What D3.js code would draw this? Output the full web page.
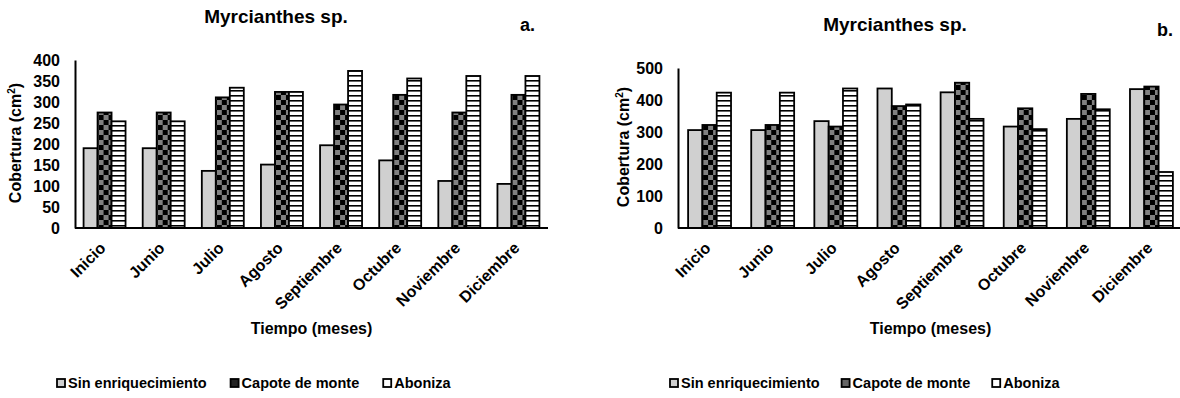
<!DOCTYPE html>
<html>
<head>
<meta charset="utf-8">
<script src="https://cdn.jsdelivr.net/npm/d3@7"></script>
<style>
  body { margin: 0; background: #fff; }
  text { font-family: "Liberation Sans", Arial, sans-serif; font-weight: bold; fill: #000; }
</style>
</head>
<body>
<script>
// categorias y series
var months = ["Inicio", "Junio", "Julio", "Agosto", "Septiembre", "Octubre", "Noviembre", "Diciembre"];
var seriesNames = ["Sin enriquecimiento", "Capote de monte", "Aboniza"];

var sinA = [190, 190, 136, 151, 197, 161, 112, 105];
var capoteA = [275, 275, 311, 324, 294, 317, 275, 317];
var abonizaA = [254, 254, 334, 324, 374, 356, 362, 362];

var sinB = [306, 306, 334, 436, 424, 317, 341, 434];
var capoteB = [322, 322, 317, 381, 454, 374, 419, 442];
var abonizaB = [423, 423, 436, 386, 341, 309, 371, 175];

var ticksA = [0, 50, 100, 150, 200, 250, 300, 350, 400];
var ticksB = [0, 100, 200, 300, 400, 500];

var svg = d3.select("body").append("svg")
    .attr("width", 1180)
    .attr("height", 398);

// patterns
var defs = svg.append("defs");
var checker = defs.append("pattern")
    .attr("id", "checker")
    .attr("patternUnits", "userSpaceOnUse")
    .attr("width", 10).attr("height", 10);
checker.append("rect").attr("width", 10).attr("height", 10).attr("fill", "#808080");
checker.append("rect").attr("width", 5).attr("height", 5).attr("fill", "#000");
checker.append("rect").attr("x", 5).attr("y", 5).attr("width", 5).attr("height", 5).attr("fill", "#000");

var stripes = defs.append("pattern")
    .attr("id", "stripes")
    .attr("patternUnits", "userSpaceOnUse")
    .attr("width", 10).attr("height", 5);
stripes.append("rect").attr("width", 10).attr("height", 5).attr("fill", "#fff");
stripes.append("rect").attr("y", 0).attr("width", 10).attr("height", 1.6).attr("fill", "#000");

var fills = ["#d0d0d0", "url(#checker)", "url(#stripes)"];
var legendFills = ["#d0d0d0", "#5a5a5a", "#fff"];

function drawChart(cfg) {
    var g = svg.append("g");

    var y = d3.scaleLinear().domain(cfg.domain).range([228, cfg.top]);
    var x = d3.scaleBand().domain(months).range([cfg.left, cfg.right])
        .paddingInner(cfg.pad).paddingOuter(cfg.pad / 2);
    var xs = d3.scaleBand().domain([0, 1, 2]).range([0, x.bandwidth()]);

    var rows = months.map(function (m, i) {
        return { month: m, vals: [cfg.series[0][i], cfg.series[1][i], cfg.series[2][i]] };
    });

    // bars
    var grp = g.selectAll(".grp")
        .data(rows)
        .enter()
        .append("g")
        .attr("transform", function (d) { return "translate(" + x(d.month) + ",0)"; });
    grp.selectAll("rect")
        .data(function (d) { return d.vals; })
        .enter()
        .append("rect")
        .attr("x", function (d, i) { return xs(i); })
        .attr("y", function (d) { return y(d); })
        .attr("width", xs.bandwidth())
        .attr("height", function (d) { return 228 - y(d); })
        .attr("fill", function (d, i) { return fills[i]; })
        .attr("stroke", "#000")
        .attr("stroke-width", 1.8);

    // y axis
    var yAxis = d3.axisLeft(y).tickValues(cfg.ticks).tickSize(0).tickPadding(15).tickSizeOuter(0);
    var ya = g.append("g").attr("transform", "translate(" + cfg.left + ",0)").call(yAxis);
    ya.select(".domain").attr("stroke", "#000").attr("stroke-width", 2);
    ya.selectAll("text").style("font-size", "16px").style("font-family", "Liberation Sans, Arial, sans-serif");

    // x axis
    var xAxis = d3.axisBottom(x).tickSize(0).tickSizeOuter(0).tickFormat("");
    var xa = g.append("g").attr("transform", "translate(0,228)").call(xAxis);
    xa.select(".domain").attr("stroke", "#000").attr("stroke-width", 2)
        .attr("d", "M" + cfg.left + ",0H" + cfg.right);

    g.selectAll(".xlab")
        .data(months)
        .enter()
        .append("text")
        .attr("class", "xlab")
        .attr("text-anchor", "end")
        .attr("font-size", 16)
        .attr("transform", function (d) {
            return "translate(" + (x(d) + x.bandwidth() / 2 + 2) + ",249) rotate(-45)";
        })
        .text(function (d) { return d; });

    // titles
    g.append("text")
        .attr("x", cfg.titleX).attr("y", cfg.titleY)
        .attr("text-anchor", "middle")
        .attr("font-size", 19)
        .text("Myrcianthes sp.");
    g.append("text")
        .attr("x", cfg.letterX).attr("y", cfg.letterY)
        .attr("font-size", 18)
        .text(cfg.letter);

    var yt = g.append("text")
        .attr("text-anchor", "middle")
        .attr("font-size", 16)
        .attr("transform", "translate(" + cfg.yTitleX + "," + cfg.yTitleY + ") rotate(-90)");
    yt.append("tspan").text("Cobertura (cm");
    yt.append("tspan").attr("font-size", 10).attr("dy", -6).text("2");
    yt.append("tspan").attr("dy", 6).text(")");

    g.append("text")
        .attr("x", (cfg.left + cfg.xEnd) / 2).attr("y", 334)
        .attr("text-anchor", "middle")
        .attr("font-size", 16)
        .text("Tiempo (meses)");

    // legend
    var lx = cfg.legendX;
    seriesNames.forEach(function (name, i) {
        g.append("rect")
            .attr("x", lx).attr("y", 379)
            .attr("width", 8).attr("height", 8)
            .attr("fill", i === 1 ? cfg.legendCapote : legendFills[i])
            .attr("stroke", "#000").attr("stroke-width", 1.8);
        var t = g.append("text")
            .attr("x", lx + 11).attr("y", 388)
            .attr("font-size", 14.5)
            .text(name);
        lx += 11 + t.node().getComputedTextLength() + cfg.legendGap;
    });
}

drawChart({
    series: [sinA, capoteA, abonizaA],
    domain: [0, 400], ticks: ticksA, top: 60,
    left: 75, right: 548, xEnd: 548, pad: 0.29,
    titleX: 276, titleY: 23, letter: "a.", letterX: 520, letterY: 31,
    yTitleX: 21, yTitleY: 143,
    legendX: 57, legendGap: 24, legendCapote: "#222"
});

drawChart({
    series: [sinB, capoteB, abonizaB],
    domain: [0, 500], ticks: ticksB, top: 68,
    left: 678, right: 1183, xEnd: 1183, pad: 0.32,
    titleX: 895, titleY: 31, letter: "b.", letterX: 1157, letterY: 36,
    yTitleX: 629, yTitleY: 147,
    legendX: 670, legendGap: 22, legendCapote: "#666"
});
</script>
</body>
</html>
